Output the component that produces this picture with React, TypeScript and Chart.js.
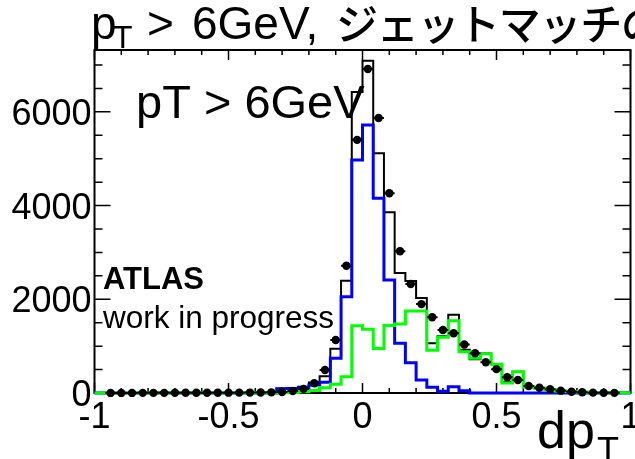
import { useEffect, useRef } from "react";
import { Chart, registerables } from "chart.js";

Chart.register(...registerables);

// Histogram binning: 50 bins of width 0.04 between -1 and 1
const X_MIN = -1;
const X_MAX = 1;
const N_BINS = 50;
const Y_MAX = 7320;

// Bin contents (bin i covers [-1 + 0.04 i, -1 + 0.04 (i + 1)])
const allJets = [
  0, 0, 0, 0, 0, 0, 0, 0, 0, 0,
  0, 0, 0, 0, 2, 3, 5, 96, 107, 135,
  225, 360, 945, 2395, 6426, 7088, 5118, 3858, 2560, 2391,
  2030, 1060, 1210, 1672, 925, 720, 845, 612, 240, 455,
  140, 100, 70, 45, 30, 20, 12, 8, 5, 3,
];

const matchedJets = [
  0, 0, 0, 0, 0, 0, 0, 0, 0, 0,
  0, 0, 0, 0, 0, 0, 0, 90, 95, 105,
  170, 230, 740, 2055, 4975, 5720, 4155, 2410, 1060, 645,
  278, 122, 35, 135, 50, 0, 0, 0, 0, 0,
  0, 0, 0, 0, 0, 0, 0, 0, 0, 0,
];

const unmatchedJets = [
  0, 0, 0, 0, 0, 0, 0, 0, 0, 0,
  0, 0, 0, 0, 2, 3, 4, 6, 12, 28,
  55, 110, 186, 345, 1435, 1360, 950, 1440, 1470, 1750,
  1750, 915, 1190, 1540, 880, 740, 840, 612, 215, 455,
  125, 100, 70, 45, 30, 20, 12, 8, 5, 3,
];

// Measured points; null marks an empty bin
const dataPoints: (number | null)[] = [
  null, 2, 2, 2, 3, 3, 3, 4, 4, 5,
  5, 6, 7, 8, 9, 11, 14, 22, 43, 88,
  207, 490, 1132, 2715, 5402, 6915, 5870, 4264, 3025, 2325,
  1897, 1616, 1345, 1274, 1035, 848, 655, 509, 335, 278,
  149, 113, 79, 50, 28, 15, 8, 5, 3, null,
];

const xTickValues = [-1, -0.5, 0, 0.5, 1];
const xTickLabels = ["-1", "-0.5", "0", "0.5", "1"];
const yTickValues = [0, 2000, 4000, 6000];
const yTickLabels = ["0", "2000", "4000", "6000"];

const binWidth = (X_MAX - X_MIN) / N_BINS;
const binEdges = Array.from({ length: N_BINS + 1 }, (_, i) =>
  Math.round((X_MIN + i * binWidth) * 1000) / 1000
);
const binCenters = binEdges.slice(0, N_BINS).map((e) =>
  Math.round((e + binWidth / 2) * 1000) / 1000
);

// Outline of a histogram as step points at the bin edges
const stepPoints = (values: number[]) =>
  binEdges.map((e, i) => ({ x: e, y: values[Math.min(i, N_BINS - 1)] }));

// Horizontal error bars spanning each filled bin
const errorBarPoints = () => {
  const pts: { x: number; y: number | null }[] = [];
  dataPoints.forEach((v, i) => {
    if (v === null) return;
    pts.push({ x: binEdges[i], y: v });
    pts.push({ x: binEdges[i + 1], y: v });
    pts.push({ x: binEdges[i + 1], y: null });
  });
  return pts;
};

const LATIN = '"Liberation Sans", Arial, sans-serif';
const CJK = '"Noto Sans CJK JP", sans-serif';
const TITLE_JP = "ジェットマッチの効率";

const framePlugin = {
  id: "rootFrame",
  beforeDatasetsDraw(chart: Chart) {
    const { ctx, chartArea: a } = chart;
    const xs = chart.scales.x;
    const ys = chart.scales.y;
    ctx.save();
    ctx.strokeStyle = "#000";
    ctx.lineWidth = 2;
    ctx.strokeRect(a.left, a.top, a.right - a.left, a.bottom - a.top);

    ctx.lineWidth = 1.5;
    ctx.beginPath();
    for (let k = -10; k <= 10; k++) {
      const px = xs.getPixelForValue(k / 10);
      const len = k % 5 === 0 ? 10 : 5;
      ctx.moveTo(px, a.bottom);
      ctx.lineTo(px, a.bottom - len);
      ctx.moveTo(px, a.top);
      ctx.lineTo(px, a.top + len);
    }
    for (let v = 0; v <= Y_MAX; v += 500) {
      const py = ys.getPixelForValue(v);
      const len = v % 2000 === 0 ? 16 : 8;
      ctx.moveTo(a.left, py);
      ctx.lineTo(a.left + len, py);
      ctx.moveTo(a.right, py);
      ctx.lineTo(a.right - len, py);
    }
    ctx.stroke();
    ctx.restore();
  },
  afterDatasetsDraw(chart: Chart) {
    const { ctx, chartArea: a } = chart;
    const xs = chart.scales.x;
    const ys = chart.scales.y;
    ctx.save();
    ctx.fillStyle = "#000";

    // tick labels
    ctx.font = `36px ${LATIN}`;
    ctx.textBaseline = "alphabetic";
    ctx.textAlign = "right";
    yTickValues.forEach((v, i) => {
      ctx.fillText(yTickLabels[i], a.left - 3, ys.getPixelForValue(v) + 13);
    });
    ctx.textAlign = "center";
    xTickValues.forEach((v, i) => {
      ctx.fillText(xTickLabels[i], xs.getPixelForValue(v), a.bottom + 35);
    });

    ctx.textAlign = "left";
    // axis title
    ctx.font = `52px ${LATIN}`;
    ctx.fillText("dp", 537, 448);
    ctx.font = `36px ${LATIN}`;
    ctx.fillText("T", 597, 463);

    // pad title
    ctx.font = `46px ${LATIN}`;
    ctx.fillText("p", 91, 39);
    ctx.font = `32px ${LATIN}`;
    ctx.fillText("T", 113, 48);
    ctx.font = `46px ${LATIN}`;
    ctx.fillText(">", 147, 39);
    ctx.fillText("6GeV,", 192, 39);
    ctx.font = `500 42px ${CJK}`;
    Array.from(TITLE_JP).forEach((ch, k) => {
      ctx.fillText(ch, 336 + k * 40.7, 40);
    });

    // in-frame labels
    ctx.font = `47px ${LATIN}`;
    ctx.fillText("pT > 6GeV", 136, 118);
    ctx.font = `bold 31px ${LATIN}`;
    ctx.fillText("ATLAS", 103, 289);
    ctx.font = `31.5px ${LATIN}`;
    ctx.fillText("work in progress", 103, 328);
    ctx.restore();
  },
};

export default function App() {
  const canvasRef = useRef<HTMLCanvasElement>(null);

  useEffect(() => {
    const canvas = canvasRef.current;
    if (!canvas) return;
    const histStyle = {
      stepped: true as const,
      pointRadius: 0,
      fill: false,
      tension: 0,
      borderJoinStyle: "miter" as const,
      borderCapStyle: "butt" as const,
      clip: false as const,
    };
    const chart = new Chart(canvas, {
      type: "line",
      data: {
        datasets: [
          {
            label: "data",
            data: binCenters.map((c, i) => ({ x: c, y: dataPoints[i] })),
            showLine: false,
            pointRadius: 4.2,
            pointBackgroundColor: "#000",
            pointBorderWidth: 0,
            clip: false,
            order: 0,
          },
          {
            label: "data errors",
            data: errorBarPoints(),
            borderColor: "#000",
            borderWidth: 2,
            pointRadius: 0,
            spanGaps: false,
            clip: false,
            order: 1,
          },
          {
            label: "unmatched",
            data: stepPoints(unmatchedJets),
            borderColor: "#00ff00",
            borderWidth: 3,
            order: 2,
            ...histStyle,
          },
          {
            label: "matched",
            data: stepPoints(matchedJets),
            borderColor: "#0000ff",
            borderWidth: 3,
            order: 3,
            ...histStyle,
          },
          {
            label: "all",
            data: stepPoints(allJets),
            borderColor: "#000",
            borderWidth: 2,
            order: 4,
            ...histStyle,
          },
        ],
      },
      options: {
        responsive: false,
        animation: false,
        devicePixelRatio: 1,
        layout: { padding: { left: 94.5, right: 4.5, top: 50, bottom: 66 } },
        scales: {
          x: { type: "linear", min: X_MIN, max: X_MAX, display: false },
          y: { type: "linear", min: 0, max: Y_MAX, display: false },
        },
        plugins: {
          legend: { display: false },
          tooltip: { enabled: false },
          title: { display: false },
        },
        events: [],
      },
      plugins: [framePlugin],
    });
    return () => chart.destroy();
  }, []);

  return (
    <div style={{ position: "fixed", left: 0, top: 0, width: 635, height: 459, background: "#fff" }}>
      <canvas ref={canvasRef} width={635} height={459} style={{ display: "block" }} />
    </div>
  );
}
